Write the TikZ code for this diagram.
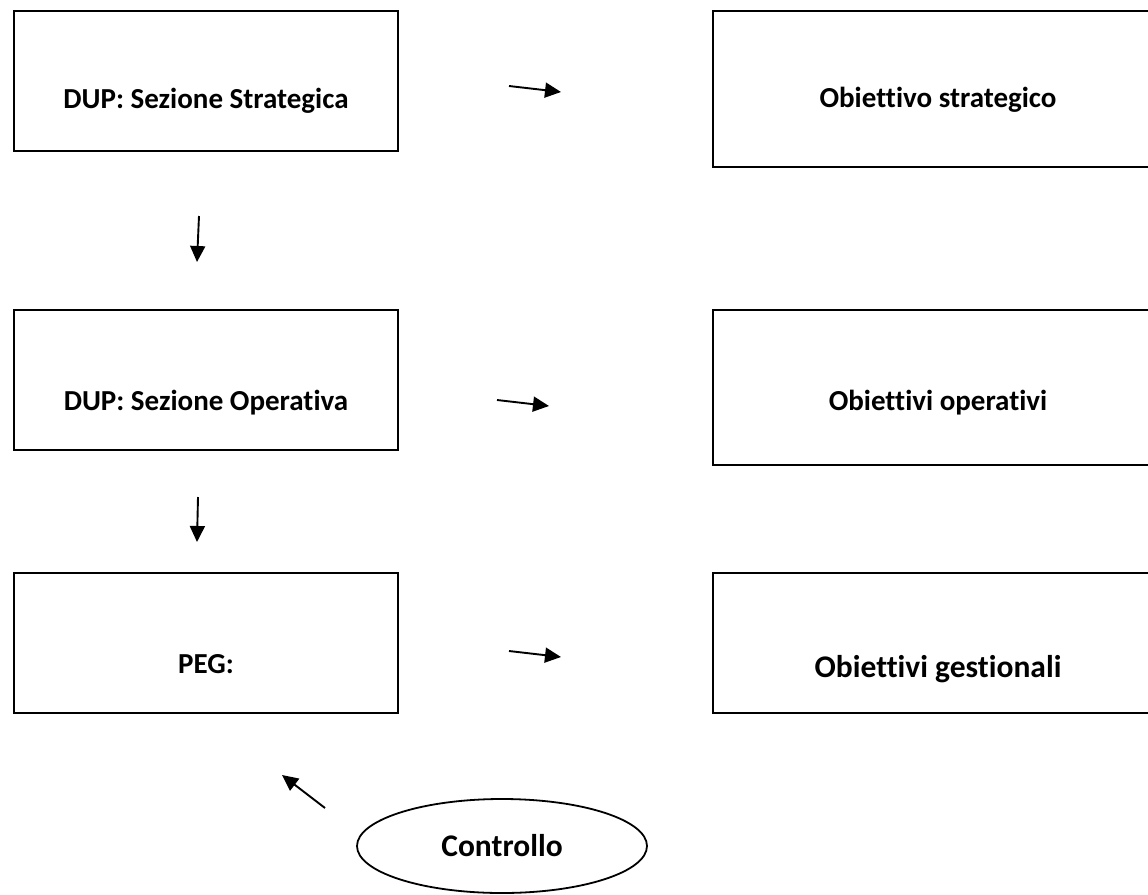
\documentclass[tikz,border=0pt]{standalone}
\usepackage{fontspec}
\setmainfont[Ligatures={NoCommon}]{Carlito}
\usetikzlibrary{arrows.meta,shapes.geometric}
\begin{document}
\begin{tikzpicture}[x=1pt,y=-1pt,
  boxr/.style={draw=black,line width=1.8pt},
  lbl/.style={font=\bfseries\fontsize{29}{32}\selectfont,inner sep=0pt},
  arr/.style={line width=1.9pt,-{Triangle[length=16pt,width=15pt]}}]
\useasboundingbox (0,0) rectangle (1148,894);
% left boxes
\draw[boxr] (14,11) rectangle (398,151);
\node[lbl] (dss) at (206,101) {DUP: Sezione Strategica};
\draw[boxr] (14,310) rectangle (398,450);
\node[lbl] (dso) at (206,403) {DUP: Sezione Operativa};
\draw[boxr] (14,573) rectangle (398,713);
\node[lbl] (peg) at (206,664) {PEG:};
% right boxes
\draw[boxr] (713,11) rectangle (1160,167);
\node[lbl] (os) at (938,100) {Obiettivo strategico};
\draw[boxr] (713,310) rectangle (1160,465);
\node[lbl] (oo) at (938,403) {Obiettivi operativi};
\draw[boxr] (713,573) rectangle (1160,713);
\node[lbl,font=\bfseries\fontsize{31.5}{34}\selectfont] (og) at (938,669) {Obiettivi gestionali};
% ellipse
\node[draw,ellipse,line width=1.8pt,minimum width=290pt,minimum height=94pt,inner sep=0pt,
      font=\bfseries\fontsize{31.5}{34}\selectfont] (ctr) at (502,846) {Controllo};
% arrows
\coordinate (a1s) at (509,86);  \coordinate (a1e) at (561,92);
\coordinate (a2s) at (497,400); \coordinate (a2e) at (549,406);
\coordinate (a3s) at (509,651); \coordinate (a3e) at (561,657);
\coordinate (d1s) at (199,216); \coordinate (d1e) at (197,262);
\coordinate (d2s) at (198,497); \coordinate (d2e) at (197,542);
\coordinate (cs) at (325,808);  \coordinate (ce) at (282,775);
\draw[arr] (a1s) -- (a1e);
\draw[arr] (a2s) -- (a2e);
\draw[arr] (a3s) -- (a3e);
\draw[arr] (d1s) -- (d1e);
\draw[arr] (d2s) -- (d2e);
\draw[arr] (cs) -- (ce);
\end{tikzpicture}
\end{document}
